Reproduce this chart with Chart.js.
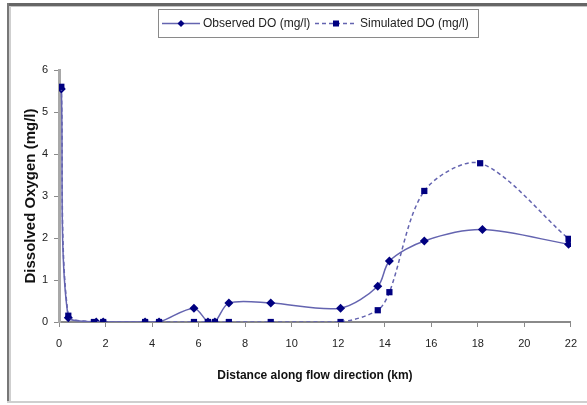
<!DOCTYPE html>
<html>
<head>
<meta charset="utf-8">
<script src="https://cdn.jsdelivr.net/npm/chart.js@4/dist/chart.umd.min.js"></script>
<style>
  html, body { margin: 0; padding: 0; background: #fff; }
  #wrap { position: relative; width: 587px; height: 405px; }
</style>
</head>
<body>
<div id="wrap"><canvas id="doChart" width="587" height="405"></canvas></div>
<script>
// distance along flow direction (km) and DO values (mg/l)
const observedKm = [0.1, 0.4, 1.6, 1.9, 3.7, 4.3, 5.8, 6.4, 6.7, 7.3, 9.1, 12.1, 13.7, 14.2, 15.7, 18.2, 21.9];
const observedDO = [5.55, 0.1, 0, 0, 0, 0, 0.33, 0, 0, 0.45, 0.45, 0.33, 0.85, 1.45, 1.93, 2.2, 1.85];
const simulatedKm = [0.1, 0.4, 1.5, 1.9, 3.7, 4.3, 5.8, 6.4, 6.7, 7.3, 9.1, 12.1, 13.7, 14.2, 15.7, 18.1, 21.9];
const simulatedDO = [5.6, 0.15, 0, 0, 0, 0, 0, 0, 0, 0, 0, 0, 0.28, 0.71, 3.12, 3.78, 1.98];
const seriesNames = ["Observed DO (mg/l)", "Simulated DO (mg/l)"];
const xTitle = "Distance along flow direction (km)";
const yTitle = "Dissolved Oxygen (mg/l)";

const lineColor = "#6464b0";
const markerColor = "#000080";
const FONT = "'Liberation Sans', Arial, sans-serif";

function toPoints(xs, ys) {
    var pts = [];
    for (var i = 0; i < xs.length; i++) {
        pts.push({x: xs[i], y: ys[i]});
    }
    return pts;
}

// outer frame + legend box, drawn like the old spreadsheet chart
const framePlugin = {
    id: "frame",
    beforeDraw(chart) {
        const ctx = chart.ctx;
        ctx.save();
        ctx.fillStyle = "#fff";
        ctx.fillRect(0, 0, chart.width, chart.height);
        ctx.fillStyle = "#666";
        ctx.fillRect(7, 3, 580, 3);
        ctx.fillStyle = "#c4c4c4";
        ctx.fillRect(7, 6, 580, 1);
        ctx.fillStyle = "#777";
        ctx.fillRect(7, 3, 2, 400);
        ctx.fillStyle = "#cfcfcf";
        ctx.fillRect(9, 6, 2, 397);
        ctx.fillRect(7, 401, 580, 2);
        ctx.restore();
    },
    afterDraw(chart) {
        const ctx = chart.ctx;
        ctx.save();
        ctx.strokeStyle = "#8a8a8a";
        ctx.lineWidth = 1;
        ctx.strokeRect(158.5, 9.5, 320, 28);
        const y = 23.5;
        ctx.font = "12px " + FONT;
        ctx.fillStyle = "#222";
        ctx.textBaseline = "middle";
        // observed sample
        ctx.strokeStyle = lineColor;
        ctx.lineWidth = 1.5;
        ctx.beginPath(); ctx.moveTo(162, y); ctx.lineTo(200, y); ctx.stroke();
        ctx.fillStyle = markerColor;
        ctx.beginPath();
        ctx.moveTo(181, y - 3.5); ctx.lineTo(184.5, y); ctx.lineTo(181, y + 3.5); ctx.lineTo(177.5, y);
        ctx.closePath(); ctx.fill();
        ctx.fillStyle = "#222";
        ctx.fillText(seriesNames[0], 203, y);
        // simulated sample
        ctx.strokeStyle = lineColor;
        ctx.setLineDash([4, 3]);
        ctx.beginPath(); ctx.moveTo(315, y); ctx.lineTo(357, y); ctx.stroke();
        ctx.setLineDash([]);
        ctx.fillStyle = markerColor;
        ctx.fillRect(333, y - 3, 6, 6);
        ctx.fillStyle = "#222";
        ctx.fillText(seriesNames[1], 360, y);
        ctx.restore();
    }
};

new Chart(document.getElementById("doChart"), {
    type: "line",
    data: {
        datasets: [{
            label: seriesNames[0],
            data: toPoints(observedKm, observedDO),
            order: 1,
            borderColor: lineColor,
            borderWidth: 1.5,
            tension: 0.3,
            pointStyle: "rectRot",
            pointRadius: 4.5,
            pointBackgroundColor: markerColor,
            pointBorderColor: markerColor,
            pointBorderWidth: 0,
            fill: false
        }, {
            label: seriesNames[1],
            data: toPoints(simulatedKm, simulatedDO),
            order: 0,
            borderColor: lineColor,
            borderWidth: 1.5,
            borderDash: [4, 3],
            tension: 0.3,
            pointStyle: "rect",
            pointRadius: 4.4,
            pointBackgroundColor: markerColor,
            pointBorderColor: markerColor,
            pointBorderWidth: 0,
            fill: false
        }]
    },
    options: {
        responsive: false,
        animation: false,
        layout: { padding: { left: 22, right: 10, top: 70, bottom: 22 } },
        plugins: {
            legend: { display: false },
            tooltip: { enabled: false }
        },
        scales: {
            x: {
                type: "linear",
                min: 0,
                max: 22,
                afterFit: s => { s.height = 61; },
                ticks: { stepSize: 2, padding: 10, color: "#222", font: { family: FONT, size: 11 } },
                grid: { drawOnChartArea: false, tickLength: 5, color: "#8a8a8a" },
                border: { color: "#8a8a8a", width: 2 },
                title: {
                    display: true, text: xTitle, color: "#111", padding: 0,
                    font: { family: FONT, size: 12, weight: "bold", lineHeight: 1.2 }
                }
            },
            y: {
                min: 0,
                max: 6,
                afterFit: s => { s.width = 37; },
                ticks: { stepSize: 1, padding: 6, color: "#222", font: { family: FONT, size: 11 } },
                grid: { drawOnChartArea: false, tickLength: 5, color: "#8a8a8a" },
                border: { color: "#a8a8a8", width: 3 },
                title: {
                    display: true, text: yTitle, color: "#111", padding: 0,
                    font: { family: FONT, size: 15, weight: "bold", lineHeight: 1.2 }
                }
            }
        }
    },
    plugins: [framePlugin]
});
</script>
</body>
</html>
